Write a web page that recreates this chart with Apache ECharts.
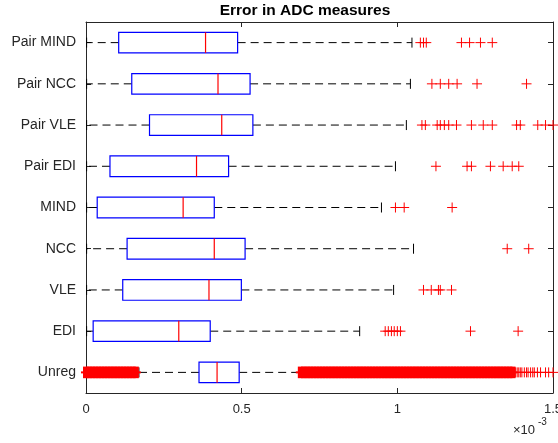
<!DOCTYPE html>
<html>
<head>
<meta charset="utf-8">
<script src="https://cdn.jsdelivr.net/npm/echarts@6/dist/echarts.min.js"></script>
<style>html,body{margin:0;padding:0;background:#fff;overflow:hidden}#c{width:558px;height:443px}</style>
</head>
<body>
<div id="c"></div>
<script>
// Categories, bottom to top (values in units of 1e-3)
const categories = ['Unreg','EDI','VLE','NCC','MIND','Pair EDI','Pair VLE','Pair NCC','Pair MIND'];
// five-number summaries: [whiskerLow, Q1, median, Q3, whiskerHigh]
const whiskerLow  = [0.170, 0.002, 0.002, 0.002, 0.002, 0.002, 0.002, 0.002, 0.002];
const q1          = [0.363, 0.023, 0.118, 0.132, 0.036, 0.077, 0.204, 0.147, 0.105];
const median      = [0.421, 0.298, 0.395, 0.412, 0.312, 0.355, 0.436, 0.424, 0.384];
const q3          = [0.492, 0.399, 0.499, 0.511, 0.412, 0.458, 0.536, 0.527, 0.487];
const whiskerHigh = [0.685, 0.879, 0.988, 1.052, 0.949, 0.994, 1.029, 1.042, 1.047];

// outliers per category
const outEDI      = [0.961, 0.971, 0.981, 0.990, 1.000, 1.010, 1.235, 1.388];
const outVLE      = [1.084, 1.109, 1.132, 1.138, 1.174];
const outNCC      = [1.353, 1.422];
const outMIND     = [0.994, 1.022, 1.176];
const outPairEDI  = [1.124, 1.224, 1.238, 1.299, 1.340, 1.369, 1.390];
const outPairVLE  = [1.079, 1.090, 1.128, 1.138, 1.151, 1.165, 1.190, 1.238, 1.276, 1.305, 1.383, 1.395, 1.451, 1.476, 1.500];
const outPairNCC  = [1.111, 1.138, 1.165, 1.192, 1.256, 1.415];
const outPairMIND = [1.074, 1.084, 1.093, 1.206, 1.232, 1.267, 1.305];
// Unreg: very many outliers, forming dense bands
const outUnregDenseLow  = [0.00,0.01,0.02,0.03,0.04,0.05,0.06,0.07,0.08,0.09,0.10,0.11,0.12,0.13,0.14,0.15,0.16];
const outUnregDenseHigh = [0.69,0.70,0.71,0.72,0.73,0.74,0.75,0.76,0.77,0.78,0.79,0.80,0.81,0.82,0.83,0.84,0.85,0.86,0.87,0.88,0.89,
  0.90,0.91,0.92,0.93,0.94,0.95,0.96,0.97,0.98,0.99,1.00,1.01,1.02,1.03,1.04,1.05,1.06,1.07,1.08,1.09,1.10,1.11,1.12,1.13,1.14,
  1.15,1.16,1.17,1.18,1.19,1.20,1.21,1.22,1.23,1.24,1.25,1.26,1.27,1.28,1.29,1.30,1.31,1.32,1.33,1.34,1.35,1.36,1.37];
const outUnregTail = [1.380,1.385,1.390,1.395,1.400,1.408,1.415,1.420,1.428,1.435,1.440,1.450,1.460,1.476,1.486,1.500];

const xTicks = [0, 0.5, 1, 1.5];

const FONT = '"Liberation Sans", Arial, Helvetica, sans-serif';
const AX = '#262626';

const boxData = categories.map((c, i) => [i, whiskerLow[i], q1[i], median[i], q3[i], whiskerHigh[i]]);
const outlierGroups = [
  [1, outEDI], [2, outVLE], [3, outNCC], [4, outMIND], [5, outPairEDI],
  [6, outPairVLE], [7, outPairNCC], [8, outPairMIND], [0, outUnregTail]
];
const outData = [];
outlierGroups.forEach(([ci, arr]) => arr.forEach(v => outData.push([v, ci])));
const denseData = [];
outUnregDenseLow.concat(outUnregDenseHigh).forEach(v => denseData.push([v, 0]));

function renderBox(params, api) {
  const ci = api.value(0);
  const y = api.coord([0, ci])[1];
  const band = api.size([0, 1])[1];
  const h = band * 0.5;
  const X = v => api.coord([v, ci])[0];
  const xl = X(api.value(1)), x1 = X(api.value(2)), xm = X(api.value(3)), x3 = X(api.value(4)), xh = X(api.value(5));
  const dash = {stroke: '#000', lineWidth: 1, lineDash: [8, 5], fill: null};
  const cap = 5;
  return {
    type: 'group',
    children: [
      {type: 'line', shape: {x1: x1, y1: y, x2: xl, y2: y}, style: dash},
      {type: 'line', shape: {x1: x3, y1: y, x2: xh, y2: y}, style: dash},
      {type: 'line', shape: {x1: xl, y1: y - cap, x2: xl, y2: y + cap}, style: {stroke: '#000', lineWidth: 1}},
      {type: 'line', shape: {x1: xh, y1: y - cap, x2: xh, y2: y + cap}, style: {stroke: '#000', lineWidth: 1}},
      {type: 'rect', shape: {x: x1, y: y - h / 2, width: x3 - x1, height: h}, style: {fill: '#fff', stroke: '#0000ff', lineWidth: 1.2}},
      {type: 'line', shape: {x1: xm, y1: y - h / 2, x2: xm, y2: y + h / 2}, style: {stroke: '#ff0000', lineWidth: 1.2}}
    ]
  };
}
function makePlus(lw, hw, sv) {
  return function (params, api) {
    const p = api.coord([api.value(0), api.value(1)]);
    const s = 5;
    return {
      type: 'group',
      children: [
        {type: 'line', shape: {x1: p[0] - s, y1: p[1], x2: p[0] + s, y2: p[1]}, style: {stroke: '#ff0000', lineWidth: hw}},
        {type: 'line', shape: {x1: p[0], y1: p[1] - sv, x2: p[0], y2: p[1] + sv}, style: {stroke: '#ff0000', lineWidth: lw}}
      ]
    };
  };
}

const chart = echarts.init(document.getElementById('c'), null, {renderer: 'canvas'});
const xCommon = {
  type: 'value', min: 0, max: 1.5, interval: 0.5,
  axisLine: {show: true, lineStyle: {color: AX, width: 1}},
  axisTick: {show: true, inside: true, length: 5, lineStyle: {color: AX}},
  splitLine: {show: false}
};
const yCommon = {
  type: 'category', data: categories, boundaryGap: true,
  axisLine: {show: true, onZero: false, lineStyle: {color: AX, width: 1}},
  axisTick: {show: true, inside: true, length: 5, alignWithLabel: true, lineStyle: {color: AX}},
  splitLine: {show: false}
};
chart.setOption({
  animation: false,
  grid: {left: 86, right: 5, top: 22, bottom: 50, containLabel: false, outerBoundsMode: 'none'},
  xAxis: [
    Object.assign({}, xCommon, {position: 'bottom',
      axisLabel: {show: true, margin: 10, fontFamily: FONT, fontSize: 13, color: AX, hideOverlap: false,
        formatter: v => (xTicks.indexOf(v) >= 0 ? String(v) : '')}}),
    Object.assign({}, xCommon, {position: 'top', axisLabel: {show: false}})
  ],
  yAxis: [
    Object.assign({}, yCommon, {position: 'left',
      axisLabel: {show: true, margin: 10, fontFamily: FONT, fontSize: 14, color: AX}}),
    Object.assign({}, yCommon, {position: 'right', axisLabel: {show: false}})
  ],
  graphic: [
    {type: 'text', x: 305, y: 11, style: {text: 'Error in ADC measures', font: 'bold 15.5px ' + FONT, fill: '#000', textAlign: 'center', textVerticalAlign: 'middle'}},
    {type: 'text', left: 513, top: 424, style: {text: '×10', font: '13px ' + FONT, fill: AX}},
    {type: 'text', left: 538, top: 417, style: {text: '-3', font: '10px ' + FONT, fill: AX}}
  ],
  series: [
    {type: 'custom', name: 'box', xAxisIndex: 0, yAxisIndex: 0, renderItem: renderBox,
      encode: {x: [1, 2, 3, 4, 5], y: 0}, data: boxData, clip: false, z: 2},
    {type: 'custom', name: 'outliers', xAxisIndex: 0, yAxisIndex: 0, renderItem: makePlus(1, 1, 5),
      encode: {x: 0, y: 1}, data: outData, clip: false, z: 3},
    {type: 'custom', name: 'dense outliers', xAxisIndex: 0, yAxisIndex: 0, renderItem: makePlus(6, 2, 5.8),
      encode: {x: 0, y: 1}, data: denseData, clip: false, z: 3}
  ]
});
</script>
</body>
</html>
